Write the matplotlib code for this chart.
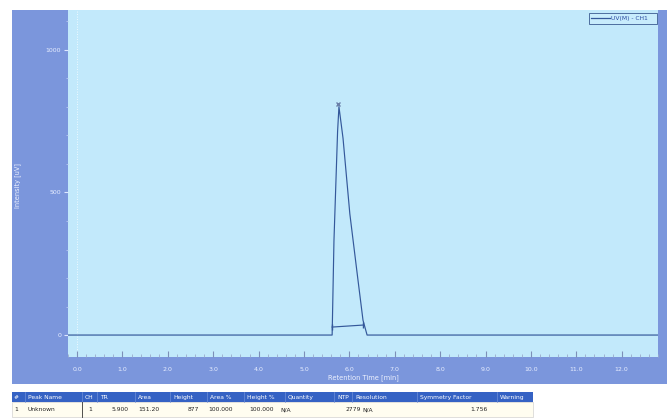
import matplotlib
matplotlib.use("Agg")
import matplotlib.pyplot as plt
from matplotlib.patches import Rectangle
from matplotlib.ticker import MultipleLocator

# ---- data ----
time_min = [-0.2, 5.62, 5.66, 5.74, 5.77, 5.86, 6.01, 6.19, 6.30, 6.39, 12.8]
intensity_uv = [0, 0, 330, 714, 801, 690, 425, 192, 52, 0, 0]
baseline_t = [5.62, 6.30]
baseline_i = [28, 35]
apex_t = [5.76]
apex_i = [812]
series_name = "UV(M) - CH1"

header_labels = ["#", "Peak Name", "CH", "TR", "Area", "Height", "Area %", "Height %",
                 "Quantity", "NTP", "Resolution", "Symmetry Factor", "Warning"]
row_values = ["1", "Unknown", "1", "5.900", "151.20", "877", "100.000", "100.000",
              "N/A", "2779", "N/A", "1.756", ""]
header_x = [14, 28, 85, 100, 138, 173, 210, 247, 288, 337, 355, 420, 500]
row_x = [14, 28, 88, 112, 138, 188, 208, 249, 280, 345, 362, 470, 500]

W, H = 667, 419
fig = plt.figure(figsize=(W / 100, H / 100), dpi=100)
fig.patch.set_facecolor("white")

def fx(px):
    return px / W

def fy(py):
    return 1 - py / H

panel = "#7b96dc"
plotbg = "#c2e9fb"
line_c = "#34589a"

# outer blue panel
fig.patches.append(Rectangle((fx(12), fy(384)), fx(655), (384 - 10) / H,
                             transform=fig.transFigure, facecolor=panel,
                             edgecolor="none", zorder=-5))

ax = fig.add_axes([fx(68), fy(357), fx(658 - 68), (357 - 10) / H])
ax.set_zorder(1)
ax.set_facecolor(plotbg)
ax.plot(time_min, intensity_uv, color=line_c, lw=0.85, zorder=3)
ax.plot(baseline_t, baseline_i, color=line_c, lw=0.85, marker="|", ms=5, zorder=3)
ax.plot(apex_t, apex_i, color="#6a7fa8", marker="x", ms=3, lw=0, zorder=3)
ax.axvline(0, color="white", lw=0.6, ls=(0, (1, 2)), zorder=1)

ax.set_xlim(-0.2, 12.8)
ax.set_ylim(-77, 1140)
ax.set_xticks(range(0, 13))
ax.set_xticklabels([f"{v:.1f}" for v in range(0, 13)])
ax.xaxis.set_minor_locator(MultipleLocator(0.2))
ax.set_yticks([0, 500, 1000])
ax.yaxis.set_minor_locator(MultipleLocator(100))
for s in ax.spines.values():
    s.set_visible(False)
ax.tick_params(axis="x", which="major", direction="in", length=4, color="#7d8fb8",
               labelsize=4.5, labelcolor="#e8eeff", pad=7)
ax.tick_params(axis="x", which="minor", direction="in", length=2, color="#9aaacc")
ax.tick_params(axis="y", which="major", direction="out", length=3, color="#dfe8ff",
               labelsize=4.5, labelcolor="#e8eeff", pad=2)
ax.tick_params(axis="y", which="minor", direction="out", length=1.5, color="#b8c8ee")

ax.set_xlabel("Retention Time [min]", fontsize=4.8, color="#eef2ff", labelpad=2)
fig.text(fx(18), fy(185), "Intensity [uV]", rotation=90, fontsize=4.8,
         color="#eef2ff", ha="center", va="center")

# legend box
fig.patches.append(Rectangle((fx(589), fy(24)), fx(68), 11 / H, transform=fig.transFigure,
                             facecolor="#c8ecfc", edgecolor="#3a5a90", lw=0.6, zorder=5))
fig.lines.append(plt.Line2D([fx(591), fx(610)], [fy(18.5), fy(18.5)],
                            transform=fig.transFigure, color=line_c, lw=0.9, zorder=6))
fig.text(fx(611), fy(18.5), series_name, fontsize=4.3, color="#2a4aa0",
         ha="left", va="center", zorder=6)

# table
fig.patches.append(Rectangle((fx(12), fy(402)), fx(521), 10 / H, transform=fig.transFigure,
                             facecolor="#3562c4", edgecolor="none", zorder=2))
fig.patches.append(Rectangle((fx(12), fy(417)), fx(521), 15 / H, transform=fig.transFigure,
                             facecolor="#fffdf0", edgecolor="#c8c8c8", lw=0.4, zorder=2))
for x in header_x[1:]:
    fig.lines.append(plt.Line2D([fx(x - 3), fx(x - 3)], [fy(392), fy(402)],
                                transform=fig.transFigure, color="#6f8fd8", lw=0.5, zorder=3))
fig.lines.append(plt.Line2D([fx(82), fx(82)], [fy(402), fy(417)],
                            transform=fig.transFigure, color="#333333", lw=0.6, zorder=3))
for x, t in zip(header_x, header_labels):
    fig.text(fx(x), fy(397), t, fontsize=4.3, color="white", ha="left", va="center", zorder=4)
for x, t in zip(row_x, row_values):
    fig.text(fx(x), fy(409.5), t, fontsize=4.3, color="#222222", ha="left", va="center", zorder=4)

fig.savefig("out.png", dpi=100)
